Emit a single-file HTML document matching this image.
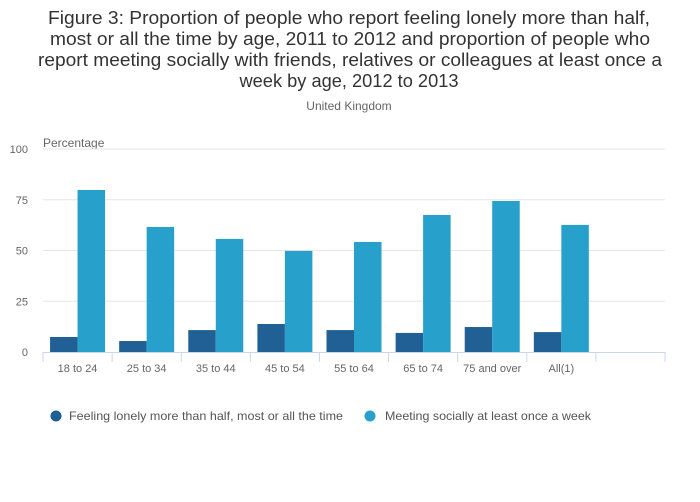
<!DOCTYPE html>
<html><head><meta charset="utf-8"><style>
html,body{margin:0;padding:0;background:#fff;}
svg{display:block;font-family:"Liberation Sans",sans-serif;}
</style></head><body>
<svg id="chart" width="700" height="502" viewBox="0 0 700 502" xmlns="http://www.w3.org/2000/svg">
<g fill="#333" font-size="18" text-anchor="middle">
<text x="349" y="24" textLength="602" lengthAdjust="spacingAndGlyphs">Figure 3: Proportion of people who report feeling lonely more than half,</text>
<text x="350" y="45" textLength="600" lengthAdjust="spacingAndGlyphs">most or all the time by age, 2011 to 2012 and proportion of people who</text>
<text x="350" y="66" textLength="624" lengthAdjust="spacingAndGlyphs">report meeting socially with friends, relatives or colleagues at least once a</text>
<text x="349" y="87" textLength="219" lengthAdjust="spacingAndGlyphs">week by age, 2012 to 2013</text>
</g>
<text x="349" y="110" font-size="12" fill="#666" text-anchor="middle">United Kingdom</text>
<text x="43" y="147" font-size="12" fill="#666">Percentage</text>
<g id="grid"></g><g id="bars"></g><g id="xaxis"></g>
<g font-size="12" fill="#555">
<g><circle cx="56" cy="416" r="5.5" fill="#206095"/><text x="69" y="420" textLength="274" lengthAdjust="spacingAndGlyphs">Feeling lonely more than half, most or all the time</text></g>
<g><circle cx="370" cy="416" r="5.5" fill="#27a0cc"/><text x="385" y="420" textLength="206" lengthAdjust="spacingAndGlyphs">Meeting socially at least once a week</text></g>
</g>
</svg>
<script>
const categories=["18 to 24","25 to 34","35 to 44","45 to 54","55 to 64","65 to 74","75 and over","All(1)"];
const lonely=[7.4,5.4,10.8,13.8,10.8,9.4,12.3,9.8];
const meeting=[79.8,61.6,55.7,49.8,54.2,67.5,74.4,62.6];
const yTicks=[0,25,50,75,100];
const NS="http://www.w3.org/2000/svg";
const x0=43,x1=665,y0=352,y100=149,slots=9,slotW=(x1-x0)/slots;
const y=v=>y0-(y0-y100)*v/100;
function mk(t,a,p){const e=document.createElementNS(NS,t);for(const k in a)e.setAttribute(k,a[k]);p.appendChild(e);return e;}
const grid=document.getElementById('grid'),bars=document.getElementById('bars'),xa=document.getElementById('xaxis');
yTicks.forEach(t=>{
 if(t>0){const l=mk('line',{x1:x0,x2:x1,y1:y(t),y2:y(t),stroke:'#e6e6e6'},grid);
 
 }
 const tx=mk('text',{x:28,y:y(t)+4,'font-size':11,fill:'#666','text-anchor':'end'},grid);tx.textContent=t;
 
 
});
const al=mk('line',{x1:x0,x2:x1,y1:y0+0.5,y2:y0+0.5,stroke:'#ccd6eb'},xa);


for(let i=0;i<=slots;i++){const tk=mk('line',{x1:x0+i*slotW,x2:x0+i*slotW,y1:y0,y2:y0+10,stroke:'#ccd6eb'},xa);
 
 }
const bw=27.5,pad=(slotW-2*bw)/2;
categories.forEach((c,i)=>{
 const sx=x0+i*slotW+pad;
 const b1=mk('rect',{x:sx,y:y(lonely[i]),width:bw,height:y0-y(lonely[i]),fill:'#206095'},bars);
 
 
 const b2=mk('rect',{x:sx+bw,y:y(meeting[i]),width:bw,height:y0-y(meeting[i]),fill:'#27a0cc'},bars);
 
 
 const t=mk('text',{x:x0+(i+0.5)*slotW,y:372,'font-size':11,fill:'#666','text-anchor':'middle'},xa);t.textContent=c;
 
 
});
</script>
</body></html>
